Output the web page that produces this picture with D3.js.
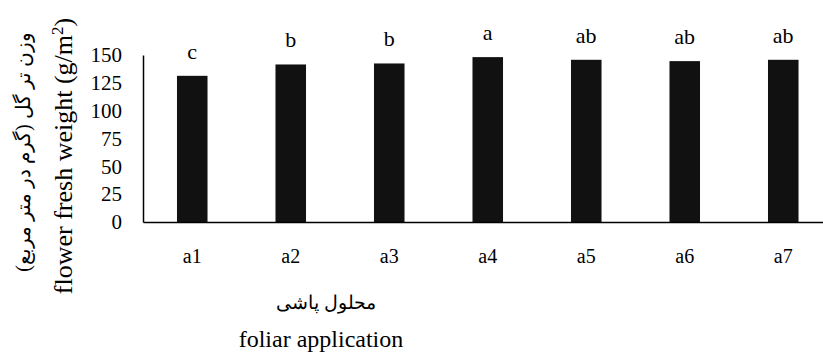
<!DOCTYPE html>
<html>
<head>
<meta charset="utf-8">
<script src="https://cdn.jsdelivr.net/npm/d3@7"></script>
<style>
  body { margin: 0; background: #fff; }
  text { font-family: "Liberation Serif", "Times New Roman", serif; fill: #000; }
</style>
</head>
<body>
<div id="chart"></div>
<script>
// values
var treatments = ['a1', 'a2', 'a3', 'a4', 'a5', 'a6', 'a7'];
var freshWeight = [131.3, 141.5, 142.4, 148.1, 145.7, 144.5, 145.7];
var letters = ['c', 'b', 'b', 'a', 'ab', 'ab', 'ab'];
var yTicks = [0, 25, 50, 75, 100, 125, 150];

var width = 823, height = 353;
var margin = {top: 55, left: 143, bottom: 131};
var step = 98.5;

var svg = d3.select('#chart').append('svg')
  .attr('width', width)
  .attr('height', height);

var x = d3.scaleBand()
  .domain(treatments)
  .range([margin.left, margin.left + step * treatments.length])
  .paddingInner(0.69)
  .paddingOuter(0.345);

var y = d3.scaleLinear()
  .domain([0, 150])
  .range([height - margin.bottom, margin.top]);

// bars
svg.selectAll('.bar')
  .data(freshWeight)
  .enter().append('rect')
  .attr('class', 'bar')
  .attr('x', (d, i) => x(treatments[i]))
  .attr('y', d => y(d))
  .attr('width', x.bandwidth())
  .attr('height', d => y(0) - y(d))
  .attr('fill', '#111');

// significance letters
svg.selectAll('.letter')
  .data(freshWeight)
  .enter().append('text')
  .attr('class', 'letter')
  .attr('x', (d, i) => x(treatments[i]) + x.bandwidth() / 2)
  .attr('y', d => y(d) - 17)
  .attr('text-anchor', 'middle')
  .style('font-size', '22px')
  .text((d, i) => letters[i]);

// y axis
var yAxis = svg.append('g')
  .attr('transform', `translate(${margin.left},0)`)
  .call(d3.axisLeft(y).tickValues(yTicks).tickSize(0).tickPadding(21));
yAxis.attr('font-family', null);
yAxis.select('.domain').attr('stroke', '#000').attr('stroke-width', 1.5);
yAxis.selectAll('text')
  .style('font-size', '21px');

// x axis
var xAxis = svg.append('g')
  .attr('transform', `translate(0,${y(0)})`)
  .call(d3.axisBottom(x).tickSize(0).tickPadding(27));
xAxis.attr('font-family', null);
xAxis.select('.domain').attr('stroke', '#000').attr('stroke-width', 1.5);
xAxis.selectAll('text')
  .style('font-size', '20px');

// axis titles
svg.append('text')
  .attr('transform', 'translate(72,156) rotate(-90)')
  .attr('text-anchor', 'middle')
  .style('font-size', '26px')
  .html('flower fresh weight (g/m<tspan baseline-shift="super" font-size="17px">2</tspan>)');

svg.append('text')
  .attr('transform', 'translate(30,152) rotate(-90)')
  .attr('text-anchor', 'middle')
  .attr('direction', 'rtl')
  .style('font-size', '20px')
  .text('وزن تر گل  (گرم در متر مربع)');

svg.append('text')
  .attr('x', 326)
  .attr('y', 309)
  .attr('text-anchor', 'middle')
  .attr('direction', 'rtl')
  .style('font-size', '19px')
  .text('محلول پاشی');

svg.append('text')
  .attr('x', 321)
  .attr('y', 347)
  .attr('text-anchor', 'middle')
  .style('font-size', '24px')
  .text('foliar application');
</script>
</body>
</html>
